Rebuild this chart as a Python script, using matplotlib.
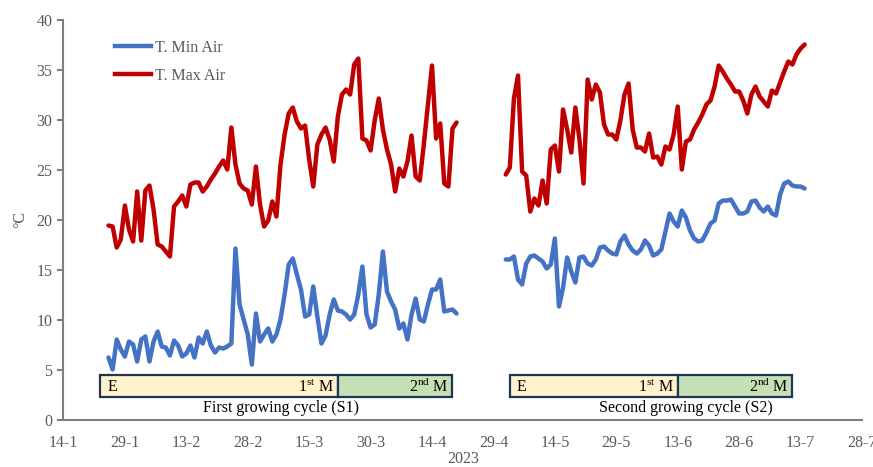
import pandas as pd
import matplotlib
import matplotlib.pyplot as plt
import matplotlib.dates as mdates
from matplotlib.patches import Rectangle
from matplotlib.lines import Line2D

plt.rcParams['font.family'] = ['Liberation Serif', 'DejaVu Serif']
plt.rcParams['mathtext.fontset'] = 'custom'
plt.rcParams['mathtext.rm'] = 'Liberation Serif'
plt.rcParams['font.size'] = 11.5

# daily air temperature, first cycle (S1)
s1_start = '2023-01-25'
min_s1 = [6.2, 5.0, 8.0, 7.0, 6.3, 7.8, 7.5, 5.8, 8.0, 8.3,
          5.8, 7.8, 8.8, 7.3, 7.2, 6.4, 7.9, 7.4, 6.3, 6.6,
          7.4, 6.2, 8.2, 7.6, 8.8, 7.4, 6.7, 7.2, 7.1, 7.3,
          7.6, 17.1, 11.5, 10.0, 8.5, 5.5, 10.6, 7.8, 8.5, 9.1,
          7.8, 8.5, 10.0, 12.5, 15.5, 16.1, 14.5, 13.0, 10.3, 10.5,
          13.3, 10.3, 7.6, 8.4, 10.5, 12.0, 10.9, 10.8, 10.5, 10.0,
          10.5, 12.5, 15.3, 10.5, 9.2, 9.5, 12.5, 16.8, 12.8, 11.8,
          11.0, 9.1, 9.6, 8.0, 10.5, 12.1, 10.0, 9.8, 11.5, 13.0,
          13.0, 14.0, 10.8, 10.9, 11.0, 10.6]
max_s1 = [19.4, 19.3, 17.2, 18.0, 21.4, 19.0, 17.8, 22.8, 17.9, 22.9,
          23.4, 21.0, 17.5, 17.3, 16.8, 16.3, 21.3, 21.8, 22.4, 21.3,
          23.5, 23.7, 23.7, 22.8, 23.3, 24.0, 24.6, 25.3, 25.9, 25.0,
          29.2, 25.5, 23.6, 23.1, 22.9, 21.5, 25.3, 21.5, 19.3, 19.9,
          21.8, 20.3, 25.5, 28.5, 30.6, 31.2, 29.8, 29.1, 29.4, 26.0,
          23.3, 27.5, 28.5, 29.2, 28.0, 25.8, 30.3, 32.5, 33.0, 32.5,
          35.5, 36.1, 28.1, 27.9, 26.9, 29.9, 32.1, 29.0, 27.0, 25.5,
          22.8, 25.1, 24.3, 25.8, 28.4, 24.3, 23.9, 27.5, 31.5, 35.4,
          28.1, 29.6, 23.6, 23.3, 29.1, 29.7]

# second cycle (S2)
s2_start = '2023-05-02'
min_s2 = [16.0, 16.0, 16.3, 14.0, 13.5, 15.6, 16.3, 16.4, 16.1, 15.8,
          15.1, 15.5, 18.1, 11.3, 13.2, 16.2, 14.8, 13.7, 16.2, 16.3,
          15.6, 15.4, 16.0, 17.2, 17.3, 16.9, 16.6, 16.5, 17.8, 18.4,
          17.5, 16.9, 16.6, 17.0, 17.9, 17.4, 16.4, 16.6, 17.0, 18.8,
          20.6, 19.8, 19.3, 20.9, 20.2, 18.9, 18.1, 17.8, 17.9, 18.7,
          19.6, 19.9, 21.6, 21.9, 21.9, 22.0, 21.3, 20.6, 20.6, 20.8,
          21.8, 21.9, 21.2, 20.8, 21.3, 20.6, 20.4, 22.5, 23.6, 23.8,
          23.4, 23.3, 23.3, 23.1]
max_s2 = [24.5, 25.2, 32.1, 34.4, 24.8, 24.4, 20.8, 22.1, 21.4, 23.9,
          21.6, 27.0, 27.4, 24.8, 31.0, 29.0, 26.7, 31.2, 28.0, 23.6,
          34.0, 32.0, 33.5, 32.7, 29.5, 28.5, 28.5, 28.0, 29.9, 32.5,
          33.6, 29.0, 27.2, 27.2, 26.8, 28.6, 26.2, 26.3, 25.5, 27.3,
          27.0, 28.5, 31.3, 25.0, 27.8, 28.0, 29.0, 29.7, 30.5, 31.5,
          31.9, 33.3, 35.4, 34.8, 34.1, 33.5, 32.8, 32.8, 31.9, 30.6,
          32.5, 33.3, 32.3, 31.8, 31.3, 32.9, 32.6, 33.7, 34.8, 35.8,
          35.5, 36.5, 37.1, 37.5]

# crop phases: (start, end of 1st M, end of 2nd M)
phases_s1 = ['2023-01-23', '2023-03-22', '2023-04-19']
phases_s2 = ['2023-05-03', '2023-06-13', '2023-07-11']
cycle_labels = ['First growing cycle (S1)', 'Second growing cycle (S2)']
cycle_label_dates = ['2023-03-08', '2023-06-15']

blue = '#4472C4'
red = '#C00000'
grey = '#595959'
navy = '#1F3556'

d1 = pd.date_range(s1_start, periods=len(min_s1), freq='D')
d2 = pd.date_range(s2_start, periods=len(min_s2), freq='D')

fig = plt.figure(figsize=(8.73, 4.67), dpi=100)
ax = fig.add_axes([0.0727, 0.1017, 0.9147, 0.8565])

kw = dict(lw=3.2, solid_joinstyle='round', solid_capstyle='round')
ax.plot(d1, min_s1, color=blue, **kw)
ax.plot(d2, min_s2, color=blue, **kw)
ax.plot(d1, max_s1, color=red, **kw)
ax.plot(d2, max_s2, color=red, **kw)

# phase boxes
y0, y1 = 2.3, 4.5
for ph in [phases_s1, phases_s2]:
    a, b, c = [mdates.date2num(pd.Timestamp(p)) for p in ph]
    ax.add_patch(Rectangle((a, y0), b - a, y1 - y0, facecolor='#FFF2CC',
                           edgecolor=navy, lw=1.6, zorder=3))
    ax.add_patch(Rectangle((b, y0), c - b, y1 - y0, facecolor='#C5E0B4',
                           edgecolor=navy, lw=1.6, zorder=3))
    ym = (y0 + y1) / 2
    ax.annotate('E', (a, ym), xytext=(5, -1), textcoords='offset points',
                ha='left', va='center', zorder=4)
    ax.annotate(r'1$^{\rm st}$ M', (b, ym), xytext=(-3, -1), textcoords='offset points',
                ha='right', va='center', zorder=4)
    ax.annotate(r'2$^{\rm nd}$ M', (c, ym), xytext=(-3, -1), textcoords='offset points',
                ha='right', va='center', zorder=4)

for lab, d in zip(cycle_labels, cycle_label_dates):
    ax.text(pd.Timestamp(d), 1.2, lab, ha='center', va='center')

ax.set_ylim(0, 40)
ax.set_yticks(range(0, 41, 5))
ax.set_xlim(pd.Timestamp('2023-01-14'), pd.Timestamp('2023-07-28'))
ax.set_xticks(pd.date_range('2023-01-14', '2023-07-28', freq='15D'))
ax.xaxis.set_major_formatter(mdates.DateFormatter('%-d-%-m'))

for s in ['top', 'right']:
    ax.spines[s].set_visible(False)
for s in ['left', 'bottom']:
    ax.spines[s].set_color('#7F7F7F')
    ax.spines[s].set_linewidth(1.5)
ax.tick_params(axis='y', length=4, width=1.5, color='#7F7F7F', labelcolor=grey, pad=4)
ax.tick_params(axis='x', length=0, labelcolor=grey, pad=11)

ax.set_ylabel('°C', color=grey, labelpad=6)
ax.set_xlabel('2023', color=grey, labelpad=0)

handles = [Line2D([], [], color=blue, lw=3.2), Line2D([], [], color=red, lw=3.2)]
ax.legend(handles, ['T. Min Air', 'T. Max Air'], loc='upper left',
          bbox_to_anchor=(0.046, 0.985), frameon=False, handlelength=2.3,
          handletextpad=0.2, labelspacing=0.75, labelcolor=grey)

fig.savefig('out.png', dpi=100)
